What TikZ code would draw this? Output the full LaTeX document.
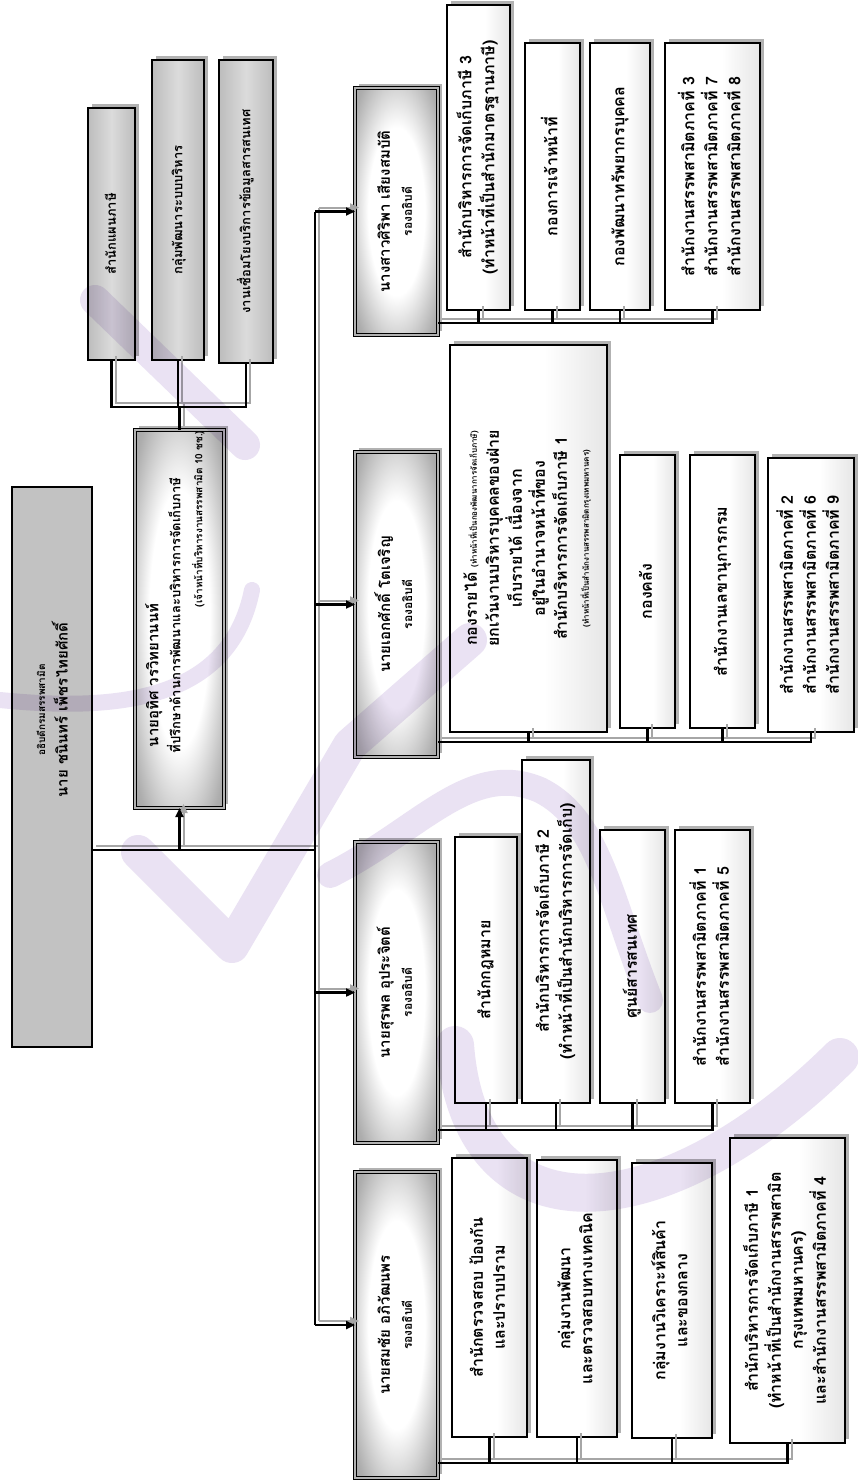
\documentclass[tikz,border=0pt]{standalone}
\usepackage{fontspec}
\newfontfamily\thaifont[Script=Thai]{Loma}
\usetikzlibrary{shadows,arrows.meta}
\definecolor{lav}{RGB}{234,226,243}
\pgfdeclareradialshading{glow}{\pgfpoint{0bp}{0bp}}{color(0bp)=(white); color(17bp)=(white); color(32bp)=(black!32); color(46bp)=(black!45); color(80bp)=(black!45)}
\pgfdeclarehorizontalshading{lite}{100bp}{color(0bp)=(white); color(55bp)=(white); color(100bp)=(black!22)}
\pgfdeclarehorizontalshading{stf}{100bp}{color(0bp)=(black!38); color(50bp)=(black!14); color(100bp)=(black!38)}
\newcommand\rt[2][c]{\rotatebox{90}{\begin{tabular}{@{}#1@{}}#2\end{tabular}}}
\newcommand\mybox[7]{\node[#1, minimum width={(#5-#3)*1pt}, minimum height={(#6-#4)*1pt}] (#2) at ({(#3+#5)/2},{(#4+#6)/2}) {#7};}
\newcommand\sm{\fontsize{10}{13}\selectfont}
\begin{document}
\begin{tikzpicture}[x=1pt,y=-1pt,
  base/.style={inner sep=0pt, outer sep=0pt, font=\thaifont\bfseries\fontsize{16}{22}\selectfont},
  shad/.style={drop shadow={shadow xshift=4pt, shadow yshift=4pt, fill=black!30, opacity=1}},
  child/.style={base, shad, draw=black, line width=1.4pt, shading=lite},
  staff/.style={base, shad, draw=black, line width=1.4pt, shading=stf},
  dep/.style={base, shad, draw=black, line width=0.9pt, double=black!30, double distance=2.2pt, shading=glow},
  dir/.style={base, draw=black, line width=1.6pt, fill=black!24},
  blk/.style={draw=black, line width=2.2pt},
  shd/.style={draw=black!35, line width=2pt},
  tip/.style={-{Triangle[length=9pt,width=8pt]}},
  wm/.style={draw=lav, line cap=round, line join=round}
]
\fill[white] (0,0) rectangle (857,1483);
\useasboundingbox (0,0) rectangle (857,1483);

% director and advisor
\mybox{dir}{D}{12}{487}{92}{1047}{}
\node[base] (Dt) at (52,710) {\rt{{\sm อธิบดีกรมสรรพสามิต}\\ {\fontsize{15}{20}\selectfont นาย ชนินทร์ เพ็ชรไทยศักดิ์}}};
\mybox{dep}{A}{135}{430}{224}{808}{}
\node[base, anchor=south] (At) at (176,753) {\rt[l]{\hspace*{6pt}{\fontsize{15}{18}\selectfont นายอุทิศ วรวิทยานนท์}\\ {\fontsize{13}{17}\selectfont ที่ปรึกษาด้านการพัฒนาและบริหารการจัดเก็บภาษี}\\ \hspace*{146pt}{\sm (เจ้าหน้าที่บริหารงานสรรพสามิต 10 ชช.)}}};

% staff units
\mybox{staff}{S1}{88}{108}{135}{360}{\rt{{\fontsize{13}{17}\selectfont สำนักแผนภาษี}}}
\mybox{staff}{S2}{152}{60}{204}{360}{\rt{{\fontsize{13}{17}\selectfont กลุ่มพัฒนาระบบบริหาร}}}
\mybox{staff}{S3}{219}{60}{273}{363}{\rt{{\fontsize{13}{17}\selectfont งานเชื่อมโยงบริการข้อมูลสารสนเทศ}}}

% deputies
\mybox{dep}{P4}{355}{88}{438}{335}{\rt{{\fontsize{15}{20}\selectfont นางสาวศิริพา เสียงสมบัติ}\\ {\fontsize{12}{16}\selectfont รองอธิบดี}}}
\mybox{dep}{P3}{355}{452}{438}{757}{\rt{{\fontsize{15}{20}\selectfont นายเอกศักดิ์ โตเจริญ}\\ {\fontsize{12}{16}\selectfont รองอธิบดี}}}
\mybox{dep}{P2}{355}{842}{438}{1143}{\rt{{\fontsize{15}{20}\selectfont นายสุรพล อุประจิตต์}\\ {\fontsize{12}{16}\selectfont รองอธิบดี}}}
\mybox{dep}{P1}{355}{1172}{438}{1478}{\rt{{\fontsize{15}{20}\selectfont นายสมชัย อภิวัฒนพร}\\ {\fontsize{12}{16}\selectfont รองอธิบดี}}}

% group 4
\mybox{child}{C4a}{447}{5}{510}{310}{\rt{สำนักบริหารการจัดเก็บภาษี 3\\(ทำหน้าที่เป็นสำนักมาตรฐานภาษี)}}
\mybox{child}{C4b}{525}{43}{580}{310}{\rt{กองการเจ้าหน้าที่}}
\mybox{child}{C4c}{590}{43}{650}{310}{\rt{กองพัฒนาทรัพยากรบุคคล}}
\mybox{child}{C4d}{665}{43}{760}{310}{\rt[l]{สำนักงานสรรพสามิตภาคที่ 3\\สำนักงานสรรพสามิตภาคที่ 7\\สำนักงานสรรพสามิตภาคที่ 8}}

% group 3
\mybox{child}{C3a}{450}{345}{607}{732}{\rt{กองรายได้ {\fontsize{8}{10}\selectfont(ทำหน้าที่เป็นกองพัฒนาการจัดเก็บภาษี)}\\ยกเว้นงานบริหารบุคคลของฝ่าย\\เก็บรายได้ เนื่องจาก\\อยู่ในอำนาจหน้าที่ของ\\สำนักบริหารการจัดเก็บภาษี 1\\{\fontsize{8}{10}\selectfont(ทำหน้าที่เป็นสำนักงานสรรพสามิตกรุงเทพมหานคร)}}}
\mybox{child}{C3b}{620}{455}{675}{728}{\rt{กองคลัง}}
\mybox{child}{C3c}{690}{455}{755}{728}{\rt{สำนักงานเลขานุการกรม}}
\mybox{child}{C3d}{768}{458}{854}{732}{\rt[l]{สำนักงานสรรพสามิตภาคที่ 2\\สำนักงานสรรพสามิตภาคที่ 6\\สำนักงานสรรพสามิตภาคที่ 9}}

% group 2
\mybox{child}{C2a}{455}{837}{517}{1103}{\rt{สำนักกฎหมาย}}
\mybox{child}{C2b}{522}{760}{590}{1103}{\rt{สำนักบริหารการจัดเก็บภาษี 2\\(ทำหน้าที่เป็นสำนักบริหารการจัดเก็บ)}}
\mybox{child}{C2c}{600}{830}{665}{1103}{\rt{ศูนย์สารสนเทศ}}
\mybox{child}{C2d}{675}{830}{750}{1103}{\rt[l]{สำนักงานสรรพสามิตภาคที่ 1\\สำนักงานสรรพสามิตภาคที่ 5}}

% group 1
\mybox{child}{C1a}{452}{1158}{527}{1437}{\rt{สำนักตรวจสอบ ป้องกัน\\และปราบปราม}}
\mybox{child}{C1b}{537}{1160}{617}{1437}{\rt{กลุ่มงานพัฒนา\\และตรวจสอบทางเทคนิค}}
\mybox{child}{C1c}{632}{1163}{712}{1438}{\rt{กลุ่มงานวิเคราะห์สินค้า\\และของกลาง}}
\mybox{child}{C1d}{730}{1138}{845}{1443}{\rt{สำนักบริหารการจัดเก็บภาษี 1\\(ทำหน้าที่เป็นสำนักงานสรรพสามิต\\กรุงเทพมหานคร)\\และสำนักงานสรรพสามิตภาคที่ 4}}

% junction coordinates
\coordinate (J) at (315,850);
\coordinate (SB) at (0,407);
\coordinate (B4) at (0,323);
\coordinate (B3) at (0,742);
\coordinate (B2) at (0,1130);
\coordinate (B1) at (0,1463);

\newcommand\conns[1]{%
  \draw[#1] (D.east|-J) -- (J);
  \draw[#1] (J|-P4.west) -- (J|-P1.west);
  \draw[#1,tip] (A.south|-J) -- (A.south);
  \draw[#1,tip] (J|-P4.west) -- (P4.west);
  \draw[#1,tip] (J|-P3.west) -- (P3.west);
  \draw[#1,tip] (J|-P2.west) -- (P2.west);
  \draw[#1,tip] (J|-P1.west) -- (P1.west);
  \draw[#1] (A.north) -- (A.north|-SB);
  \draw[#1] (S1.south) -- (S1.south|-SB) -- (S3.south|-SB) -- (S3.south);
  \draw[#1] (S2.south) -- (S2.south|-SB);
  \draw[#1] (P4.east|-B4) -- (C4d.south|-B4) -- (C4d.south);
  \draw[#1] (C4a.south) -- (C4a.south|-B4);
  \draw[#1] (C4b.south) -- (C4b.south|-B4);
  \draw[#1] (C4c.south) -- (C4c.south|-B4);
  \draw[#1] (P3.east|-B3) -- (C3d.south|-B3) -- (C3d.south);
  \draw[#1] (C3a.south) -- (C3a.south|-B3);
  \draw[#1] (C3b.south) -- (C3b.south|-B3);
  \draw[#1] (C3c.south) -- (C3c.south|-B3);
  \draw[#1] (P2.east|-B2) -- (C2d.south|-B2) -- (C2d.south);
  \draw[#1] (C2a.south) -- (C2a.south|-B2);
  \draw[#1] (C2b.south) -- (C2b.south|-B2);
  \draw[#1] (C2c.south) -- (C2c.south|-B2);
  \draw[#1] (P1.east|-B1) -- (C1d.south|-B1) -- (C1d.south);
  \draw[#1] (C1a.south) -- (C1a.south|-B1);
  \draw[#1] (C1b.south) -- (C1b.south|-B1);
  \draw[#1] (C1c.south) -- (C1c.south|-B1);
}
\begin{scope}[transform canvas={xshift=4pt,yshift=4pt}]
\conns{shd}
\end{scope}
\conns{blk}

% watermark (faint lavender strokes over the chart)
\begin{scope}[blend mode=multiply]
  \draw[wm, line width=30pt] (95,300) -- (245,445);
  \draw[wm, line width=16pt] (0,700) .. controls (120,712) and (230,700) .. (252,590);
  \draw[wm, line width=34pt] (138,852) -- (232,946) -- (350,745) -- (470,640);
  \draw[wm, line width=38pt] (455,1045) .. controls (470,1245) and (660,1235) .. (840,1057);
  \draw[wm, line width=26pt] (330,875) .. controls (420,830) and (470,760) .. (540,790) .. controls (600,820) and (610,900) .. (650,1000);
\end{scope}
\end{tikzpicture}
\end{document}
